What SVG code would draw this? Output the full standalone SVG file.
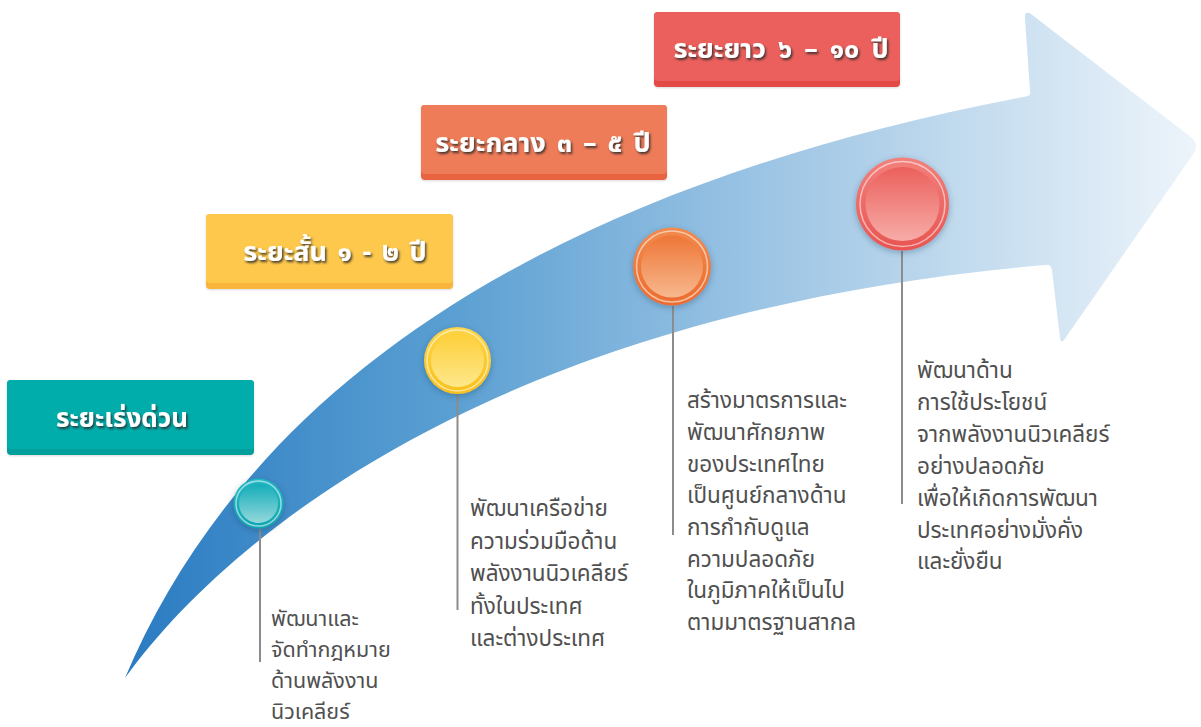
<svg xmlns="http://www.w3.org/2000/svg" width="1201" height="727" viewBox="0 0 1201 727">
  <defs>
    <linearGradient id="arrowGrad" gradientUnits="userSpaceOnUse" x1="125" y1="0" x2="1200" y2="0">
      <stop offset="0" stop-color="#2a7bc2"/>
      <stop offset="0.3" stop-color="#5a9fd2"/>
      <stop offset="0.55" stop-color="#93bfe2"/>
      <stop offset="0.8" stop-color="#c6ddef"/>
      <stop offset="1" stop-color="#eef5fb"/>
    </linearGradient>
    <filter id="txtShadow" x="-10%" y="-30%" width="130%" height="170%">
      <feDropShadow dx="1.5" dy="2" stdDeviation="0.8" flood-color="#2a2a2a" flood-opacity="0.85"/>
    </filter>
    <filter id="circShadow" x="-40%" y="-40%" width="180%" height="180%">
      <feDropShadow dx="0" dy="2" stdDeviation="3" flood-color="#1b3b5a" flood-opacity="0.35"/>
    </filter>
    <filter id="boxShadow" x="-5%" y="-10%" width="110%" height="130%">
      <feDropShadow dx="0" dy="1" stdDeviation="1" flood-color="#000" flood-opacity="0.15"/>
    </filter>
    <linearGradient id="tealOuter" x1="0" y1="0" x2="0" y2="1">
      <stop offset="0" stop-color="#22b8c2"/>
      <stop offset="1" stop-color="#0fa6b2"/>
    </linearGradient>
    <linearGradient id="tealInner" x1="0" y1="0" x2="0" y2="1">
      <stop offset="0" stop-color="#14adb9"/>
      <stop offset="1" stop-color="#94d8dc"/>
    </linearGradient>
    <linearGradient id="yelOuter" x1="0" y1="0" x2="0" y2="1">
      <stop offset="0" stop-color="#fdd447"/>
      <stop offset="1" stop-color="#f9c11c"/>
    </linearGradient>
    <linearGradient id="yelInner" x1="0" y1="0" x2="0" y2="1">
      <stop offset="0" stop-color="#fdcf3a"/>
      <stop offset="1" stop-color="#fee88c"/>
    </linearGradient>
    <linearGradient id="orgOuter" x1="0" y1="0" x2="0" y2="1">
      <stop offset="0" stop-color="#f28a4c"/>
      <stop offset="1" stop-color="#ec6c2e"/>
    </linearGradient>
    <linearGradient id="orgInner" x1="0" y1="0" x2="0" y2="1">
      <stop offset="0" stop-color="#ee7637"/>
      <stop offset="1" stop-color="#f7b88e"/>
    </linearGradient>
    <linearGradient id="redOuter" x1="0" y1="0" x2="0" y2="1">
      <stop offset="0" stop-color="#f2807c"/>
      <stop offset="1" stop-color="#e85551"/>
    </linearGradient>
    <linearGradient id="redInner" x1="0" y1="0" x2="0" y2="1">
      <stop offset="0" stop-color="#eb605c"/>
      <stop offset="1" stop-color="#f7aca8"/>
    </linearGradient>
  </defs>
  <style>
    .badge { font-family: 'Noto Sans Thai', 'Noto Sans', 'DejaVu Sans', sans-serif; font-weight: bold; font-size: 26px; fill: #ffffff; text-anchor: middle; }
    .big { font-size: 27px; }
    .desc { font-family: 'Noto Sans Thai', 'Noto Sans', 'DejaVu Sans', sans-serif; font-size: 22.5px; fill: #505050; }
    .small { font-size: 21.5px; }
    .stem { stroke: #8c8c8c; stroke-width: 2; fill: none; }
    .ring { fill: none; stroke: #ffffff; stroke-opacity: 0.55; stroke-width: 1.5; }
  </style>
  <rect width="1201" height="727" fill="#ffffff"/>

  <g id="arrow">
    <path d="M125,678 C230,430 480,200 1028,96 Q1031,95 1030,91 L1025,18 Q1024,10 1031,14 L1192,138 Q1199,145 1194,153 L1064,340 Q1061,344 1060,338 L1052,270 Q1051,264 1045,265 C520,310 240,520 125,678 Z" fill="url(#arrowGrad)"/>
  </g>

  <g id="connectors">
    <line class="stem" x1="260" y1="529" x2="260" y2="662"/>
    <line class="stem" x1="457.5" y1="394" x2="457.5" y2="610"/>
    <line class="stem" x1="673" y1="306" x2="673" y2="535"/>
    <line class="stem" x1="902" y1="251" x2="902" y2="504"/>
  </g>

  <g id="badge-urgent" filter="url(#boxShadow)">
    <rect x="7" y="380" width="247" height="75" rx="4" fill="#009f9c"/>
    <rect x="7" y="380" width="247" height="69" rx="4" fill="#00adab"/>
    <text class="badge" x="122" y="427" filter="url(#txtShadow)">ระยะเร่งด่วน</text>
  </g>
  <g id="badge-short" filter="url(#boxShadow)">
    <rect x="206" y="214" width="247" height="75" rx="4" fill="#f9b43a"/>
    <rect x="206" y="214" width="247" height="69" rx="4" fill="#fdc84c"/>
    <text class="badge big" x="335" y="261" filter="url(#txtShadow)" word-spacing="3.5">ระยะสั้น ๑ - ๒ ปี</text>
  </g>
  <g id="badge-mid" filter="url(#boxShadow)">
    <rect x="421" y="105" width="246" height="75" rx="4" fill="#e86340"/>
    <rect x="421" y="105" width="246" height="69" rx="4" fill="#ef7b58"/>
    <text class="badge big" x="543" y="152" filter="url(#txtShadow)" word-spacing="4">ระยะกลาง ๓ – ๕ ปี</text>
  </g>
  <g id="badge-long" filter="url(#boxShadow)">
    <rect x="654" y="12" width="246" height="75" rx="4" fill="#e34a44"/>
    <rect x="654" y="12" width="246" height="69" rx="4" fill="#eb605c"/>
    <text class="badge big" x="781" y="58" filter="url(#txtShadow)" word-spacing="5">ระยะยาว ๖ – ๑๐ ปี</text>
  </g>

  <g id="node-urgent">
    <circle cx="258.5" cy="503.5" r="25" fill="url(#tealOuter)" filter="url(#circShadow)"/>
    <circle class="ring" cx="258.5" cy="503.5" r="22.5"/>
    <circle cx="258.5" cy="503.5" r="19.5" fill="url(#tealInner)"/>
    <text class="desc small" x="271" y="626">พัฒนาและ</text>
    <text class="desc small" x="271" y="657">จัดทำกฎหมาย</text>
    <text class="desc small" x="271" y="688">ด้านพลังงาน</text>
    <text class="desc small" x="271" y="719">นิวเคลียร์</text>
  </g>

  <g id="node-short">
    <circle cx="457.5" cy="360.5" r="33.5" fill="url(#yelOuter)" filter="url(#circShadow)"/>
    <circle class="ring" cx="457.5" cy="360.5" r="30.5"/>
    <circle cx="457.5" cy="360.5" r="26.5" fill="url(#yelInner)"/>
    <text class="desc" x="470" y="516">พัฒนาเครือข่าย</text>
    <text class="desc" x="470" y="548.5">ความร่วมมือด้าน</text>
    <text class="desc" x="470" y="581">พลังงานนิวเคลียร์</text>
    <text class="desc" x="470" y="613.5">ทั้งในประเทศ</text>
    <text class="desc" x="470" y="646">และต่างประเทศ</text>
  </g>

  <g id="node-mid">
    <circle cx="672" cy="266.5" r="39" fill="url(#orgOuter)" filter="url(#circShadow)"/>
    <circle class="ring" cx="672" cy="266.5" r="35.5"/>
    <circle cx="672" cy="266.5" r="31" fill="url(#orgInner)"/>
    <text class="desc" x="687" y="408">สร้างมาตรการและ</text>
    <text class="desc" x="687" y="440">พัฒนาศักยภาพ</text>
    <text class="desc" x="687" y="471.5">ของประเทศไทย</text>
    <text class="desc" x="687" y="503">เป็นศูนย์กลางด้าน</text>
    <text class="desc" x="687" y="535">การกำกับดูแล</text>
    <text class="desc" x="687" y="566.5">ความปลอดภัย</text>
    <text class="desc" x="687" y="598">ในภูมิภาคให้เป็นไป</text>
    <text class="desc" x="687" y="630">ตามมาตรฐานสากล</text>
  </g>

  <g id="node-long">
    <circle cx="902.5" cy="204" r="46.5" fill="url(#redOuter)" filter="url(#circShadow)"/>
    <circle class="ring" cx="902.5" cy="204" r="42.5"/>
    <circle cx="902.5" cy="204" r="37" fill="url(#redInner)"/>
    <text class="desc" x="917" y="378">พัฒนาด้าน</text>
    <text class="desc" x="917" y="410">การใช้ประโยชน์</text>
    <text class="desc" x="917" y="442">จากพลังงานนิวเคลียร์</text>
    <text class="desc" x="917" y="474">อย่างปลอดภัย</text>
    <text class="desc" x="917" y="505.5">เพื่อให้เกิดการพัฒนา</text>
    <text class="desc" x="917" y="537.5">ประเทศอย่างมั่งคั่ง</text>
    <text class="desc" x="917" y="569">และยั่งยืน</text>
  </g>
</svg>
